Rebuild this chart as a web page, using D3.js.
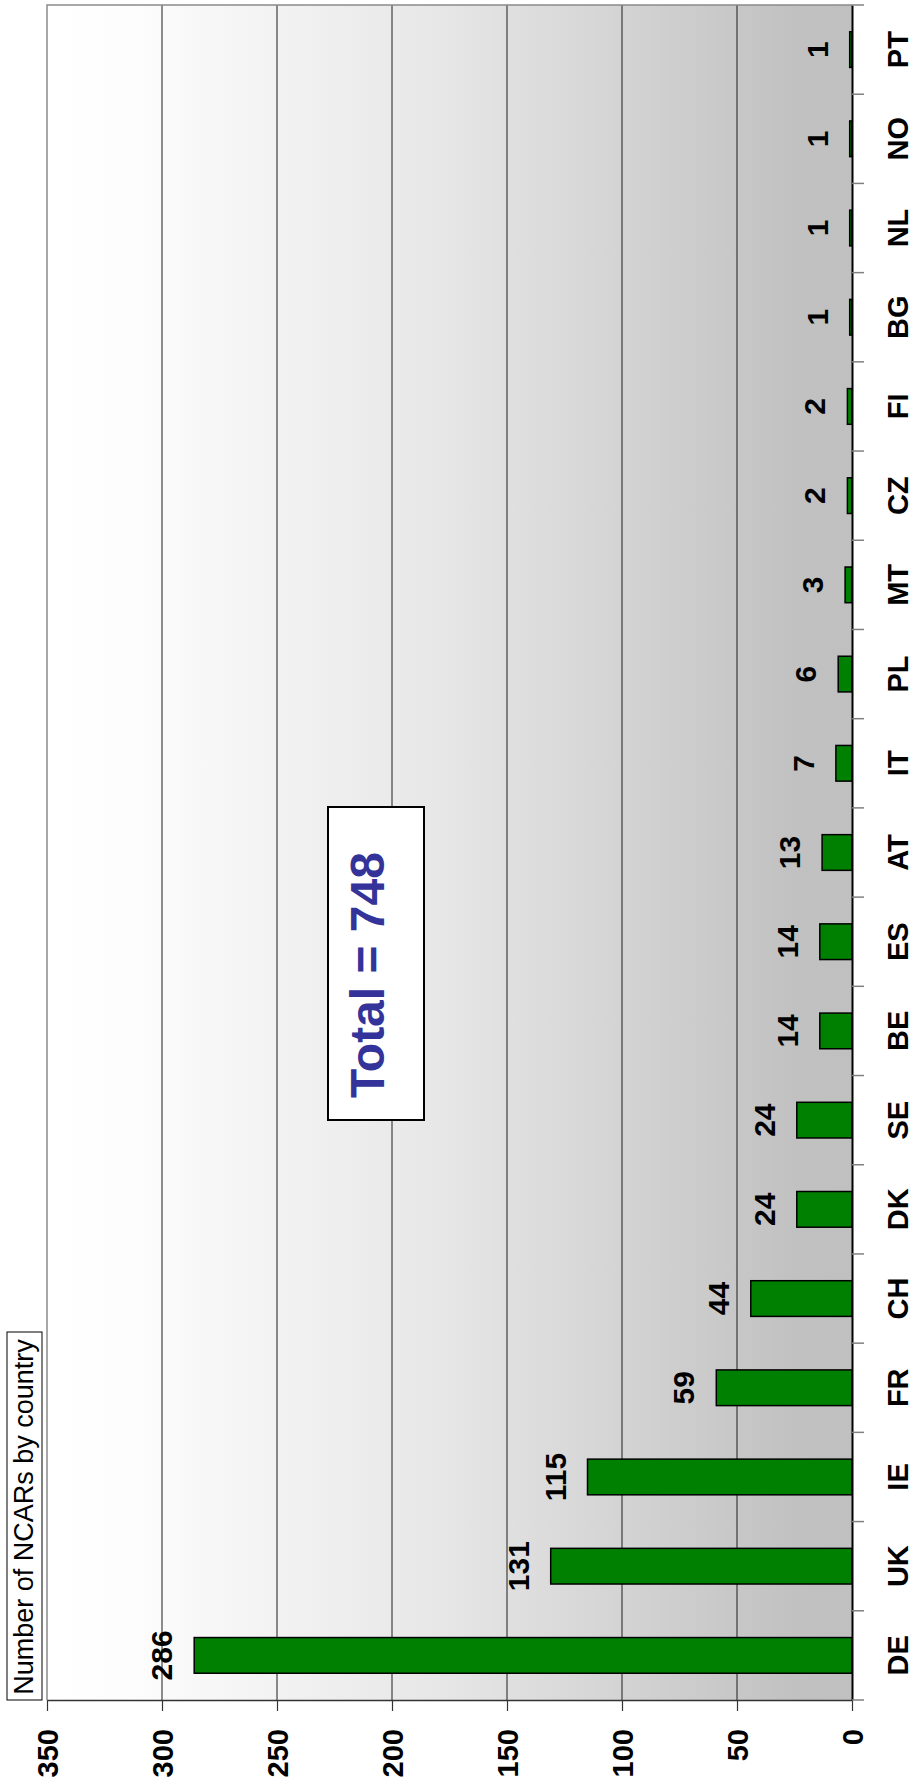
<!DOCTYPE html>
<html>
<head>
<meta charset="utf-8">
<script src="https://cdn.jsdelivr.net/npm/d3@7"></script>
<style>
  body { margin: 0; background: #fff; }
  svg { display: block; font-family: "Liberation Sans", Arial, sans-serif; }
</style>
</head>
<body>
<script>
// chart data (drawn rotated: value axis runs right-to-left, categories bottom-to-top)
const categories = ["DE","UK","IE","FR","CH","DK","SE","BE","ES","AT","IT","PL","MT","CZ","FI","BG","NL","NO","PT"];
const counts = [286,131,115,59,44,24,24,14,14,13,7,6,3,2,2,1,1,1,1];
const valueTicks = [0,50,100,150,200,250,300,350];
const titleText = "Number of NCARs by country";

const width = 913, height = 1792;
const plot = { left: 47, right: 852, top: 5, bottom: 1700 };

const svg = d3.select("body").append("svg")
  .attr("width", width)
  .attr("height", height);

const x = d3.scaleLinear().domain([0, 350]).range([plot.right, plot.left]);
const y = d3.scaleBand().domain(categories).range([plot.bottom, plot.top]);

const rows = categories.map((c, i) => ({ country: c, value: counts[i] }));

// --------------------------------------------------
// BACKGROUND
// --------------------------------------------------

const grad = svg.append("defs").append("linearGradient")
  .attr("id", "bg")
  .attr("x1", 0).attr("x2", 1).attr("y1", 0).attr("y2", 0);
[[0, "#ffffff"], [0.1, "#fdfdfd"], [0.5, "#e6e6e6"], [0.93, "#c1c1c1"], [1, "#c0c0c0"]]
  .forEach(([o, c]) => grad.append("stop").attr("offset", o).attr("stop-color", c));

svg.append("rect")
  .attr("x", plot.left)
  .attr("y", plot.top)
  .attr("width", plot.right - plot.left)
  .attr("height", plot.bottom - plot.top)
  .attr("fill", "url(#bg)");

// gridlines
svg.append("g")
  .selectAll("line")
  .data(valueTicks.filter(v => v > 0 && v < 350))
  .enter()
  .append("line")
  .attr("x1", d => x(d)).attr("x2", d => x(d))
  .attr("y1", plot.top).attr("y2", plot.bottom)
  .attr("stroke", "#1e1e1e")
  .attr("stroke-width", 1);

// plot border (top + left)
svg.append("path")
  .attr("d", `M${plot.right},${plot.top}H${plot.left}V${plot.bottom}`)
  .attr("fill", "none")
  .attr("stroke", "#8a8a8a")
  .attr("stroke-width", 1.5);

// --------------------------------------------------
// TOTAL BOX
// --------------------------------------------------

svg.append("rect")
  .attr("x", 328).attr("y", 807)
  .attr("width", 96).attr("height", 313)
  .attr("fill", "#fff")
  .attr("stroke", "#000")
  .attr("stroke-width", 2);

svg.append("text")
  .attr("transform", "translate(384,975) rotate(-90)")
  .attr("text-anchor", "middle")
  .attr("font-size", 48)
  .attr("font-weight", "bold")
  .attr("fill", "#333399")
  .text(`Total = ${d3.sum(counts)}`);

// --------------------------------------------------
// BARS
// --------------------------------------------------

const barW = y.bandwidth() * 0.4;

svg.append("g")
  .selectAll("rect")
  .data(rows)
  .enter()
  .append("rect")
  .attr("x", d => x(d.value))
  .attr("y", d => y(d.country) + (y.bandwidth() - barW) / 2)
  .attr("width", d => x(0) - x(d.value))
  .attr("height", barW)
  .attr("fill", "#008000")
  .attr("stroke", "#000")
  .attr("stroke-width", 1.5);

svg.append("g")
  .selectAll("text")
  .data(rows)
  .enter()
  .append("text")
  .attr("transform", d => `translate(${x(d.value) - 22},${y(d.country) + y.bandwidth() / 2}) rotate(-90)`)
  .attr("text-anchor", "middle")
  .attr("font-size", 30)
  .attr("font-weight", "bold")
  .text(d => d.value);

// --------------------------------------------------
// VALUE AXIS (bottom)
// --------------------------------------------------

const xAxis = svg.append("g")
  .attr("transform", `translate(0,${plot.bottom})`)
  .call(d3.axisBottom(x).tickValues(valueTicks).tickSize(11).tickSizeOuter(0));

xAxis.select(".domain").attr("stroke", "#333").attr("stroke-width", 1.5);
xAxis.selectAll(".tick line").attr("stroke", "#333").attr("stroke-width", 1.2);
xAxis.selectAll(".tick text")
  .attr("transform", "rotate(-90)")
  .attr("text-anchor", "end")
  .attr("x", -29)
  .attr("y", 0)
  .attr("dy", "0.36em")
  .attr("font-size", 29)
  .attr("font-weight", "bold")
  .attr("font-family", null)
  .attr("fill", "#000");

// --------------------------------------------------
// CATEGORY AXIS (right)
// --------------------------------------------------

const yAxis = svg.append("g")
  .attr("transform", `translate(${x(0)},0)`)
  .call(d3.axisRight(y).tickSize(0).tickPadding(0).tickSizeOuter(0));

yAxis.select(".domain").attr("stroke", "#000").attr("stroke-width", 2);
yAxis.selectAll(".tick text")
  .attr("transform", "rotate(-90)")
  .attr("text-anchor", "middle")
  .attr("x", 0)
  .attr("y", 56)
  .attr("dy", 0)
  .attr("font-size", 29)
  .attr("font-weight", "bold")
  .attr("font-family", null)
  .attr("fill", "#000");

// ticks between categories
yAxis.selectAll("line.sep")
  .data(d3.range(categories.length + 1))
  .enter()
  .append("line")
  .attr("class", "sep")
  .attr("x1", 0).attr("x2", 12)
  .attr("y1", i => plot.top + i * y.step())
  .attr("y2", i => plot.top + i * y.step())
  .attr("stroke", "#808080")
  .attr("stroke-width", 1.5);

// --------------------------------------------------
// TITLE BOX
// --------------------------------------------------

svg.append("rect")
  .attr("x", 7).attr("y", 1332)
  .attr("width", 35).attr("height", plot.bottom - 1332)
  .attr("fill", "#fff")
  .attr("stroke", "#000")
  .attr("stroke-width", 1);

svg.append("text")
  .attr("transform", "translate(33,1517) rotate(-90)")
  .attr("text-anchor", "middle")
  .attr("font-size", 27)
  .text(titleText);
</script>
</body>
</html>
